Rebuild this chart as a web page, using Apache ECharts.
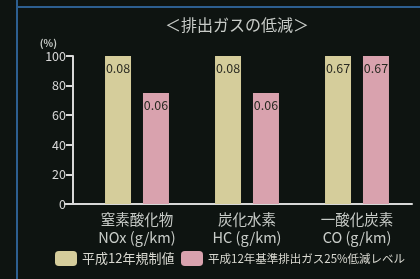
<!DOCTYPE html>
<head>
    <meta charset="utf-8">
    <title>排出ガスの低減</title>
</head>
<body style="margin:0;background:#0e1411">

<div id="main" style="height:279px;width:420px"></div>
<script src="https://cdn.jsdelivr.net/npm/echarts@6/dist/echarts.min.js"></script>

<script type="text/javascript">
var categories = ['窒素酸化物\nNOx (g/km)', '炭化水素\nHC (g/km)', '一酸化炭素\nCO (g/km)'];
var seriesNames = ['平成12年規制値', '平成12年基準排出ガス25%低減レベル'];
var regPercent = [100, 100, 100];
var lowPercent = [75, 75, 100];
var regValues = ['0.08', '0.08', '0.67'];
var lowValues = ['0.06', '0.06', '0.67'];

var myChart = echarts.init(document.getElementById('main'));
var font = '"Noto Sans CJK JP", "Noto Sans", sans-serif';

function valueLabel(texts) {
	return {
		show: true, position: 'insideTop', distance: 6,
		color: '#2a2a22', fontSize: 12.5, fontFamily: font,
		formatter: function (p) { return texts[p.dataIndex]; }
	};
}

function legendAt(name, left, size) {
	return {
		data: [name], bottom: 8, left: left, itemWidth: 22, itemHeight: 15,
		textStyle: { color: '#d8d8d0', fontSize: size, fontFamily: font }
	};
}

var option = {
	backgroundColor: '#0e1411',
	animation: false,
	title: {
		text: '＜排出ガスの低減＞', left: 232, top: 12, textAlign: 'center',
		textStyle: { color: '#c8ccc8', fontSize: 16, fontWeight: 'normal', fontFamily: font }
	},
	legend: [legendAt(seriesNames[0], 50, 13), legendAt(seriesNames[1], 176, 11.5)],
	grid: { left: 82, right: 8, top: 56, bottom: 75 },
	xAxis: {
		type: 'category', data: categories,
		axisLine: { lineStyle: { color: '#d8d8d8', width: 2 } },
		axisTick: { show: false },
		axisLabel: { color: '#c8ccc8', fontSize: 14.5, lineHeight: 18, margin: 6, fontFamily: font }
	},
	yAxis: {
		type: 'value', min: 0, max: 100, interval: 20, offset: 9,
		name: '(%)', nameLocation: 'end', nameGap: 8,
		nameTextStyle: { color: '#c8ccc8', fontSize: 10, fontWeight: 'bold', align: 'right', fontFamily: font, padding: [0, 16, 0, 0] },
		axisLine: { show: true, lineStyle: { color: '#d8d8d8', width: 2 } },
		axisTick: { show: true, length: 7, lineStyle: { color: '#d8d8d8', width: 2 } },
		axisLabel: { color: '#d8d8d8', fontSize: 12.5, margin: 7, fontFamily: font },
		splitLine: { show: false }
	},
	series: [
		{ name: seriesNames[0], type: 'bar', data: regPercent, barWidth: 26, barGap: '46%',
		  itemStyle: { color: '#d5cd9b' }, label: valueLabel(regValues) },
		{ name: seriesNames[1], type: 'bar', data: lowPercent, barWidth: 26,
		  itemStyle: { color: '#d9a2ae' }, label: valueLabel(lowValues) }
	],
	graphic: [
		{ type: 'line', shape: { x1: 17, y1: 0, x2: 17, y2: 279 }, style: { stroke: '#2d5f90', lineWidth: 2 } },
		{ type: 'line', shape: { x1: 17, y1: 7, x2: 420, y2: 7 }, style: { stroke: '#2d5f90', lineWidth: 2 } },
		{ type: 'line', shape: { x1: 64, y1: 204, x2: 83, y2: 204 }, style: { stroke: '#d8d8d8', lineWidth: 2 } }
	]
};
myChart.setOption(option);
</script>
</body>
